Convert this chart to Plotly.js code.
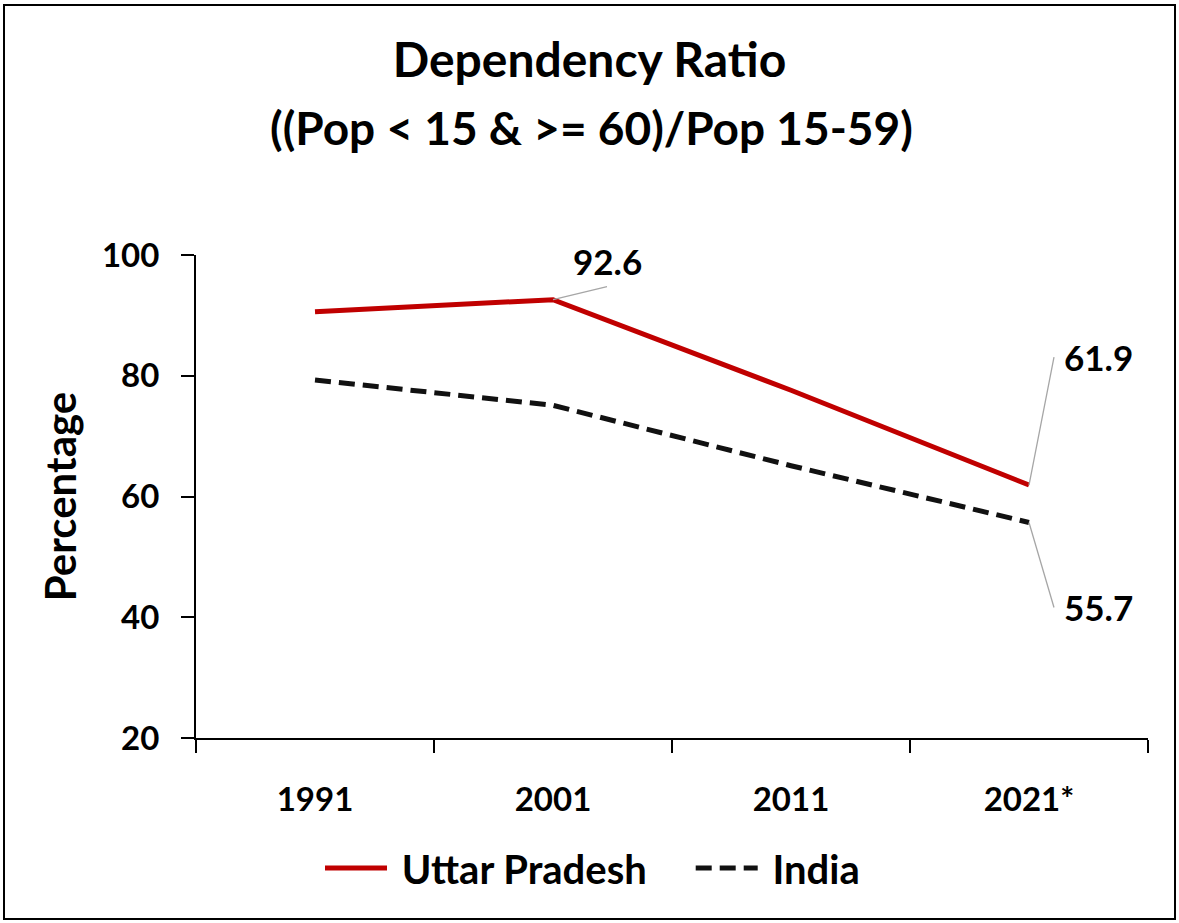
<!DOCTYPE html>
<html>
<head>
<meta charset="utf-8">
<script src="https://cdn.plot.ly/plotly-3.0.1.min.js"></script>
<style>
html,body{margin:0;padding:0;background:#fff;}
#chart{width:1179px;height:923px;}
</style>
</head>
<body>
<div id="chart"></div>
<script>
var years = ["1991", "2001", "2011", "2021*"];
var uttarPradesh = [90.6, 92.6, 77.6, 61.9];
var india = [79.3, 75.1, 65.1, 55.7];
var seriesNames = ["Uttar Pradesh", "India"];
var yTicks = [20, 40, 60, 80, 100];
var titleLine1 = "Dependency Ratio";
var titleLine2 = "((Pop &lt; 15 &amp; &gt;= 60)/Pop 15-59)";
var yTitle = "Percentage";

var FONT = "Lato, 'Open Sans', sans-serif";
var NB = "\u00a0";

var traces = [
  {
    x: years, y: uttarPradesh, name: NB + seriesNames[0] + NB + NB + NB + NB, type: "scatter", mode: "lines",
    line: {color: "#C00000", width: 5}
  },
  {
    x: years, y: india, name: NB + seriesNames[1], type: "scatter", mode: "lines",
    line: {color: "#111111", width: 5, dash: "16px,8px"}
  }
];

function label(xi, arr, ax, ay, xanchor, yanchor, pad) {
  return {
    x: xi, y: arr[xi], xref: "x", yref: "y",
    text: String(arr[xi]),
    showarrow: true, arrowhead: 0, arrowwidth: 1.3, arrowcolor: "#A6A6A6",
    ax: ax, ay: ay, standoff: 0,
    xanchor: xanchor, yanchor: yanchor, borderpad: pad,
    font: {family: FONT, size: 35, color: "#000", weight: "bold"}
  };
}

var layout = {
  width: 1179, height: 923,
  paper_bgcolor: "#fff", plot_bgcolor: "#fff",
  margin: {l: 196, r: 31, t: 255, b: 185, pad: 0, autoexpand: false},
  font: {family: FONT, color: "#000"},
  title: {
    text: titleLine1,
    font: {family: FONT, size: 48, color: "#000", weight: "bold"},
    x: 0.5, xref: "container", xanchor: "center",
    y: 1 - 60/923, yref: "container", yanchor: "middle"
  },
  showlegend: true,
  legend: {
    orientation: "h", x: (320-196)/952, xanchor: "left",
    y: -(868-738)/483, yanchor: "middle",
    bgcolor: "rgba(0,0,0,0)",
    font: {family: FONT, size: 40, color: "#000", weight: "bold"},
    itemwidth: 62, tracegroupgap: 0
  },
  xaxis: {
    type: "category",
    range: [-0.5, 3.5],
    showline: true, linecolor: "#000", linewidth: 2,
    ticks: "outside", ticklen: 13, tickwidth: 2, tickcolor: "#000",
    tickson: "boundaries",
    showgrid: false, zeroline: false,
    tickfont: {family: FONT, size: 33, color: "#000", weight: "bold"},
    ticklabelstandoff: 31,
    automargin: false,
    fixedrange: true
  },
  yaxis: {
    range: [20, 100],
    tickvals: yTicks,
    showline: true, linecolor: "#000", linewidth: 2,
    ticks: "outside", ticklen: 13, tickwidth: 2, tickcolor: "#000",
    showgrid: false, zeroline: false,
    tickfont: {family: FONT, size: 33, color: "#000", weight: "bold"},
    ticklabelstandoff: 15,
    title: {text: yTitle, font: {family: FONT, size: 42, color: "#000", weight: "bold"}, standoff: 12},
    automargin: false,
    fixedrange: true
  },
  annotations: [
    {
      text: titleLine2, xref: "paper", yref: "paper",
      x: (591-196)/952, y: (738-128)/483, xanchor: "center", yanchor: "middle",
      showarrow: false,
      font: {family: FONT, size: 46, color: "#000", weight: "bold"}
    },
    label(1, uttarPradesh, 54, -13, "center", "bottom", 4),
    label(3, uttarPradesh, 25, -128, "left", "middle", 9),
    label(3, india, 25, 85, "left", "middle", 9)
  ],
  shapes: [
    {
      type: "rect", xref: "paper", yref: "paper",
      x0: (4-196)/952, x1: (1175-196)/952,
      y0: (738-919)/483, y1: (738-5)/483,
      line: {color: "#000", width: 2}, fillcolor: "rgba(0,0,0,0)", layer: "below"
    }
  ]
};

Plotly.newPlot("chart", traces, layout, {displayModeBar: false, staticPlot: true});
</script>
</body>
</html>
